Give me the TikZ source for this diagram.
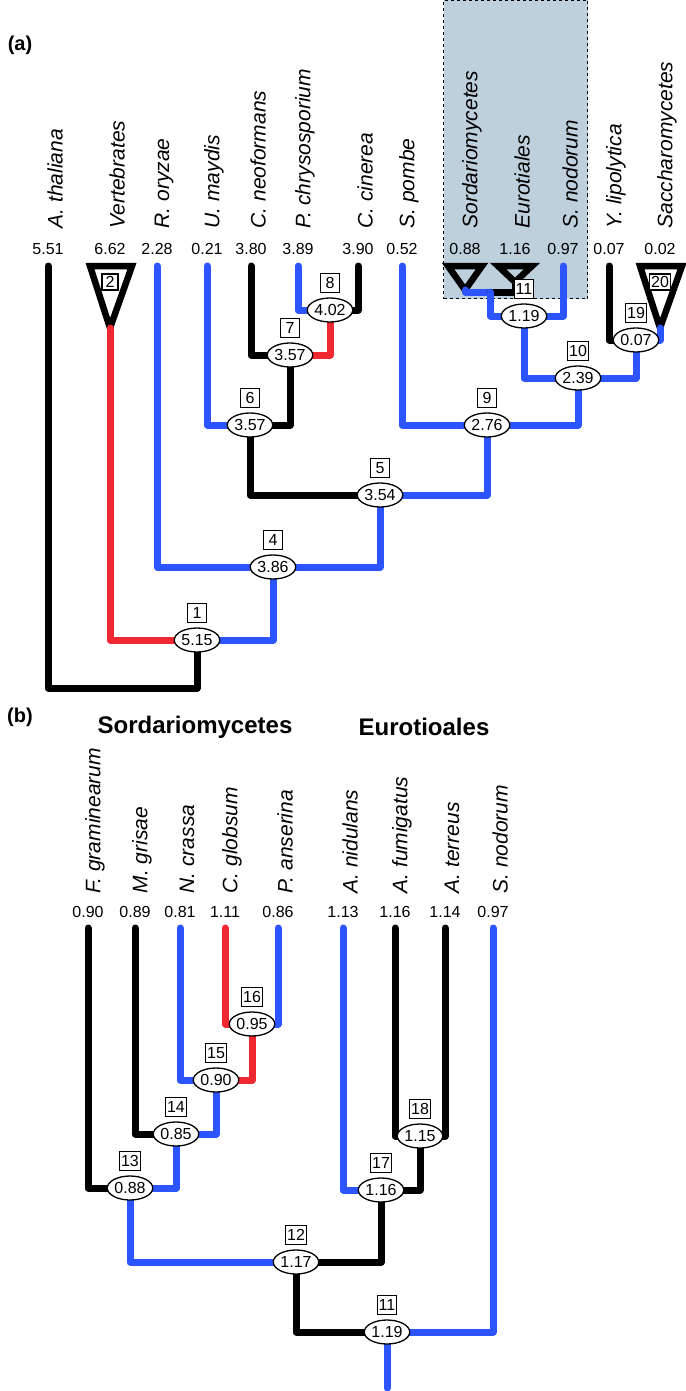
\documentclass[tikz,border=0pt]{standalone}
\usepackage{fontspec}
\setmainfont{Liberation Sans}
\usetikzlibrary{shapes.geometric}
\begin{document}
\begin{tikzpicture}[x=1pt,y=-1pt,
  br/.style={line width=7pt,line cap=round,line join=round},
  bk/.style={br,black}, bl/.style={br,myblue}, rd/.style={br,myred},
  nd/.style={draw,ellipse,fill=white,line width=1.3pt,inner sep=0.5pt,minimum width=40pt,minimum height=24pt,font=\fontsize{16}{16}\selectfont},
  bx/.style={draw,fill=white,line width=1.3pt,inner sep=1.5pt,minimum size=19pt,font=\fontsize{16}{16}\selectfont},
  tx/.style={rotate=90,anchor=west,font=\fontsize{21}{21}\selectfont\itshape},
  vl/.style={font=\fontsize{16}{16}\selectfont},
  tri/.style={line width=6.5pt,line join=miter,draw=black}]
\definecolor{myblue}{RGB}{45,85,255}
\definecolor{myred}{RGB}{240,40,50}
\definecolor{shade}{RGB}{190,208,220}
\useasboundingbox (0,0) rectangle (685,1391);
% shaded box
\node[draw,dashed,fill=shade,line width=1pt,minimum width=144pt,minimum height=298pt,anchor=north west,inner sep=0] (sh) at (443,0) {};
\node[font=\fontsize{20}{20}\selectfont\bfseries] (la) at (20,45) {(a)};
\node[font=\fontsize{20}{20}\selectfont\bfseries] (lb) at (20,717) {(b)};
% taxa (a)
\foreach \x/\n/\v/\t in {48/at/5.51/A.~thaliana,110/ve/6.62/Vertebrates,157/ro/2.28/R.~oryzae,207/um/0.21/U.~maydis,251/cn/3.80/C.~neoformans,298/pc/3.89/P.~chrysosporium,358/cc/3.90/C.~cinerea,402/sp/0.52/S.~pombe,465/so/0.88/Sordariomycetes,515/eu/1.16/Eurotiales,563/sn/0.97/S.~nodorum,609/yl/0.07/Y.~lipolytica,660/sa/0.02/Saccharomycetes}{
  \node[tx] (t\n) at (\x+7,232) {\t};
  \node[vl] (v\n) at (\x,249) {\v};
  \coordinate (c\n) at (\x,266);
}
% triangles
\draw[tri] (90,266) -- (132,266) -- (110,328) -- cycle;
\coordinate (ave) at (110,328);
\node[bx,minimum size=16pt] (b2) at (110,282) {2};
\draw[tri] (640,266) -- (682,266) -- (660,328) -- cycle;
\coordinate (asa) at (660,328);
\node[bx,minimum size=16pt] (b20) at (660,282) {20};
\draw[tri] (448,266) -- (482,266) -- (465,290) -- cycle;
\coordinate (aso) at (465,290);
\draw[tri] (498,266) -- (532,266) -- (515,282) -- cycle;
\coordinate (aeu) at (515,282);
% nodes (a)
\coordinate (n1) at (197,640);
\coordinate (n4) at (273,567);
\coordinate (n5) at (380,495);
\coordinate (n6) at (250,425);
\coordinate (n7) at (290,355);
\coordinate (n8) at (330,310);
\coordinate (n9) at (487,425);
\coordinate (n10) at (578,378);
\coordinate (n11) at (524,316);
\coordinate (n19) at (636,340);
\coordinate (j) at (490,292);
\draw[bk] (cat) |- (197,688) -- (n1);
\draw[rd] (ave) |- (n1);
\draw[bl] (n4) |- (n1);
\draw[bl] (cro) |- (n4);
\draw[bl] (n5) |- (n4);
\draw[bk] (n6) |- (n5);
\draw[bl] (n9) |- (n5);
\draw[bl] (cum) |- (n6);
\draw[bk] (n7) |- (n6);
\draw[bk] (ccn) |- (n7);
\draw[rd] (n8) |- (n7);
\draw[bl] (cpc) |- (n8);
\draw[bk] (ccc) |- (n8);
\draw[bl] (csp) |- (n9);
\draw[bl] (n10) |- (n9);
\draw[bl] (n11) |- (n10);
\draw[bl] (n19) |- (n10);
\draw[bl] (aso) |- (j);
\draw[bk] (aeu) |- (j);
\draw[bl] (j) |- (n11);
\draw[bl] (csn) |- (n11);
\draw[bk] (cyl) |- (n19);
\draw[bl] (asa) |- (n19);
\foreach \n/\v/\t in {n1/5.15/1,n4/3.86/4,n5/3.54/5,n6/3.57/6,n7/3.57/7,n8/4.02/8,n9/2.76/9,n10/2.39/10,n11/1.19/11,n19/0.07/19}{
  \node[nd] (e\n) at (\n) {\v};
  \node[bx] (b\n) at ([yshift=27pt]\n) {\t};
}
% panel (b)
\node[font=\fontsize{24}{24}\selectfont\bfseries] (hs) at (195,727) {Sordariomycetes};
\node[font=\fontsize{24}{24}\selectfont\bfseries] (he) at (424,727) {Eurotioales};
\foreach \x/\n/\v/\t in {88/fg/0.90/F.~graminearum,135/mg/0.89/M.~grisae,180/nc/0.81/N.~crassa,225/cg/1.11/C.~globsum,278/pa/0.86/P.~anserina,343/an/1.13/A.~nidulans,395/af/1.16/A.~fumigatus,445/ate/1.14/A.~terreus,493/bsn/0.97/S.~nodorum}{
  \node[tx] (t\n) at (\x+7,897) {\t};
  \node[vl] (v\n) at (\x,912) {\v};
  \coordinate (c\n) at (\x,928);
}
\coordinate (m16) at (252,1024);
\coordinate (m15) at (216,1080);
\coordinate (m14) at (176,1134);
\coordinate (m13) at (130,1188);
\coordinate (m12) at (296,1262);
\coordinate (m17) at (381,1190);
\coordinate (m18) at (420,1136);
\coordinate (m11) at (387,1332);
\coordinate (root) at (387,1388);
\draw[rd] (ccg) |- (m16);
\draw[bl] (cpa) |- (m16);
\draw[bl] (cnc) |- (m15);
\draw[rd] (m16) |- (m15);
\draw[bk] (cmg) |- (m14);
\draw[bl] (m15) |- (m14);
\draw[bk] (cfg) |- (m13);
\draw[bl] (m14) |- (m13);
\draw[bl] (m13) |- (m12);
\draw[bk] (m17) |- (m12);
\draw[bl] (can) |- (m17);
\draw[bk] (m18) |- (m17);
\draw[bk] (caf) |- (m18);
\draw[bk] (cate) |- (m18);
\draw[bk] (m12) |- (m11);
\draw[bl] (cbsn) |- (m11);
\draw[bl] (m11) -- (root);
\foreach \n/\v/\t in {m16/0.95/16,m15/0.90/15,m14/0.85/14,m13/0.88/13,m12/1.17/12,m17/1.16/17,m18/1.15/18,m11/1.19/11}{
  \node[nd] (e\n) at (\n) {\v};
  \node[bx] (b\n) at ([yshift=27pt]\n) {\t};
}
\end{tikzpicture}
\end{document}
